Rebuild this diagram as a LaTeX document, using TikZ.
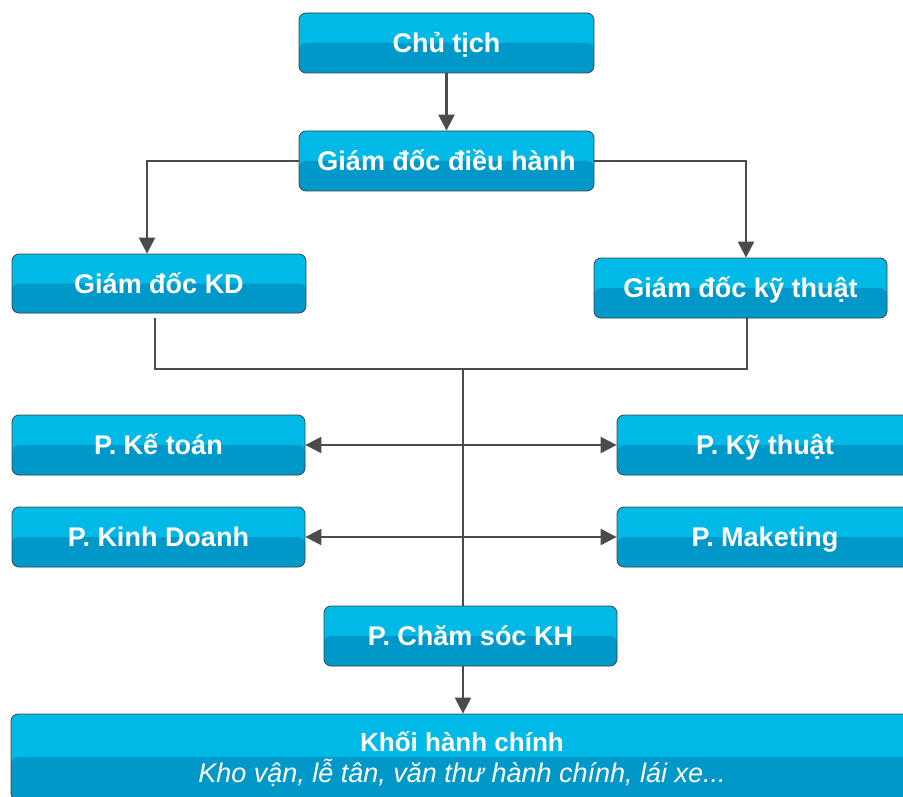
\documentclass[tikz,border=0pt]{standalone}
\usepackage{fontspec}
\setmainfont{Liberation Sans}
\usetikzlibrary{arrows.meta}
\definecolor{boxtop}{RGB}{0,185,230}
\definecolor{boxbot}{RGB}{0,152,200}
\definecolor{boxline}{RGB}{60,70,75}
\definecolor{connclr}{RGB}{75,75,75}
\tikzset{
  orgbox/.style={rectangle, rounded corners=7pt, draw=boxline, line width=0.8pt,
    fill=boxtop, inner sep=0pt, text=white,
    font=\fontsize{27}{30}\selectfont\bfseries, text height=19.3pt, text depth=0pt,
    path picture={\fill[boxbot] (path picture bounding box.west) rectangle (path picture bounding box.south east);}},
  conn/.style={draw=connclr, line width=2.4pt},
  tipend/.style={-{Triangle[length=16pt,width=16pt]}},
  tipboth/.style={{Triangle[length=16pt,width=16pt]}-{Triangle[length=16pt,width=16pt]}},
  lbl/.style={text=white, inner sep=0pt, anchor=base}
}
\begin{document}
\begin{tikzpicture}[x=1pt,y=-1pt]
\useasboundingbox (0,0) rectangle (903,797);
\clip (0,0) rectangle (903,797);
\node[orgbox, minimum width=295pt, minimum height=60pt] (ct) at (446.5,43) {Chủ tịch};
\node[orgbox, minimum width=295pt, minimum height=60pt] (gd) at (446.5,161) {Giám đốc điều hành};
\node[orgbox, minimum width=294pt, minimum height=59pt] (kd) at (159,283.5) {Giám đốc KD};
\node[orgbox, minimum width=293pt, minimum height=60pt] (kt) at (740.5,288) {Giám đốc kỹ thuật};
\node[orgbox, minimum width=293pt, minimum height=60pt] (pkt) at (158.5,445) {P. Kế toán};
\node[orgbox, minimum width=296pt, minimum height=60pt] (pky) at (765,445) {P. Kỹ thuật};
\node[orgbox, minimum width=293pt, minimum height=60pt] (pkd) at (158.5,537) {P. Kinh Doanh};
\node[orgbox, minimum width=296pt, minimum height=60pt] (pmk) at (765,537) {P. Maketing};
\node[orgbox, minimum width=293pt, minimum height=60pt] (cs) at (470.5,636) {P. Chăm sóc KH};
\node[orgbox, minimum width=902pt, minimum height=86pt] (kh) at (462,757) {};
\node[lbl, font=\fontsize{26}{30}\selectfont\bfseries] (khA) at ([yshift=-38pt]kh.north) {Khối hành chính};
\node[lbl, font=\fontsize{27}{30}\selectfont\itshape] (khB) at ([yshift=-69pt]kh.north) {Kho vận, lễ tân, văn thư hành chính, lái xe...};
\coordinate (j) at (463,369);
% connectors
\draw[conn, tipend] (ct.south) -- (gd.north);
\draw[conn, tipend] (gd.west) -| ([xshift=-12pt]kd.north);
\draw[conn, tipend] (gd.east) -| ([xshift=5.5pt]kt.north);
\draw[conn] ([xshift=-4pt,yshift=-5pt]kd.south) |- (j) -| ([xshift=6.5pt]kt.south);
\draw[conn] (j) -- (j |- cs.north);
\draw[conn, tipboth] (pkt.east) -- (pky.west);
\draw[conn, tipboth] (pkd.east) -- (pmk.west);
\draw[conn, tipend] (j |- cs.south) -- (j |- kh.north);
\end{tikzpicture}
\end{document}
